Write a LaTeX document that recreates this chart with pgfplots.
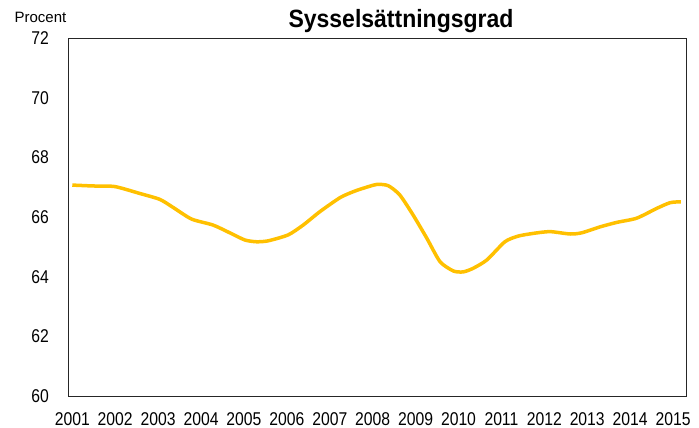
\documentclass[border=0pt]{standalone}
\usepackage{fontspec}
\setmainfont{Liberation Sans}[FakeStretch=0.85]
\newfontfamily\titlefont{Liberation Sans}[FakeStretch=0.92]
\newfontfamily\plainfont{Liberation Sans}
\usepackage{pgfplots}
\pgfplotsset{compat=1.18}
\definecolor{linegold}{HTML}{FFC000}
\begin{document}
\begin{tikzpicture}[x=1pt,y=1pt]
\useasboundingbox (0,0) rectangle (699,428);
\begin{axis}[
  at={(68pt,32pt)}, anchor=south west,
  scale only axis, width=618pt, height=358pt,
  xmin=2000.9, xmax=2015.3, ymin=60, ymax=72,
  xtick={2001,...,2015}, ytick={60,62,...,72},
  major tick length=0pt,
  axis line style={black!85, line width=0.9pt},
  ticklabel style={font=\fontsize{18.5}{18.5}\selectfont},
  /pgf/number format/assume math mode=true,
  x tick label style={/pgf/number format/1000 sep={}, yshift=-13pt},
  y tick label style={xshift=-15.5pt},
]
\addplot[linegold, line width=3.5pt, smooth, tension=0.4] coordinates {
(2001.00,67.07) (2001.48,67.04) (2001.99,67.02) (2002.57,66.79) (2003.04,66.59)
(2003.35,66.32) (2003.78,65.93) (2004.28,65.73) (2004.67,65.47) (2005.02,65.23)
(2005.29,65.17) (2005.56,65.20) (2006.03,65.40) (2006.38,65.73) (2006.77,66.18)
(2007.24,66.65) (2007.55,66.85) (2007.75,66.95) (2008.09,67.09) (2008.36,67.05)
(2008.63,66.74) (2008.94,66.07) (2009.26,65.29) (2009.57,64.50) (2009.88,64.19)
(2010.11,64.16) (2010.34,64.28) (2010.66,64.56) (2011.08,65.17) (2011.39,65.36)
(2011.74,65.45) (2012.13,65.51) (2012.60,65.43) (2012.87,65.47) (2013.30,65.67)
(2013.69,65.82) (2014.15,65.96) (2014.62,66.29) (2014.93,66.48) (2015.18,66.51)
};
\end{axis}
\node[anchor=base, inner sep=0pt, font=\titlefont\bfseries\fontsize{25}{25}\selectfont] at (401,400) {Sysselsättningsgrad};
\node[font=\plainfont\fontsize{15}{15}\selectfont] at (40.5,411) {Procent};
\end{tikzpicture}
\end{document}
